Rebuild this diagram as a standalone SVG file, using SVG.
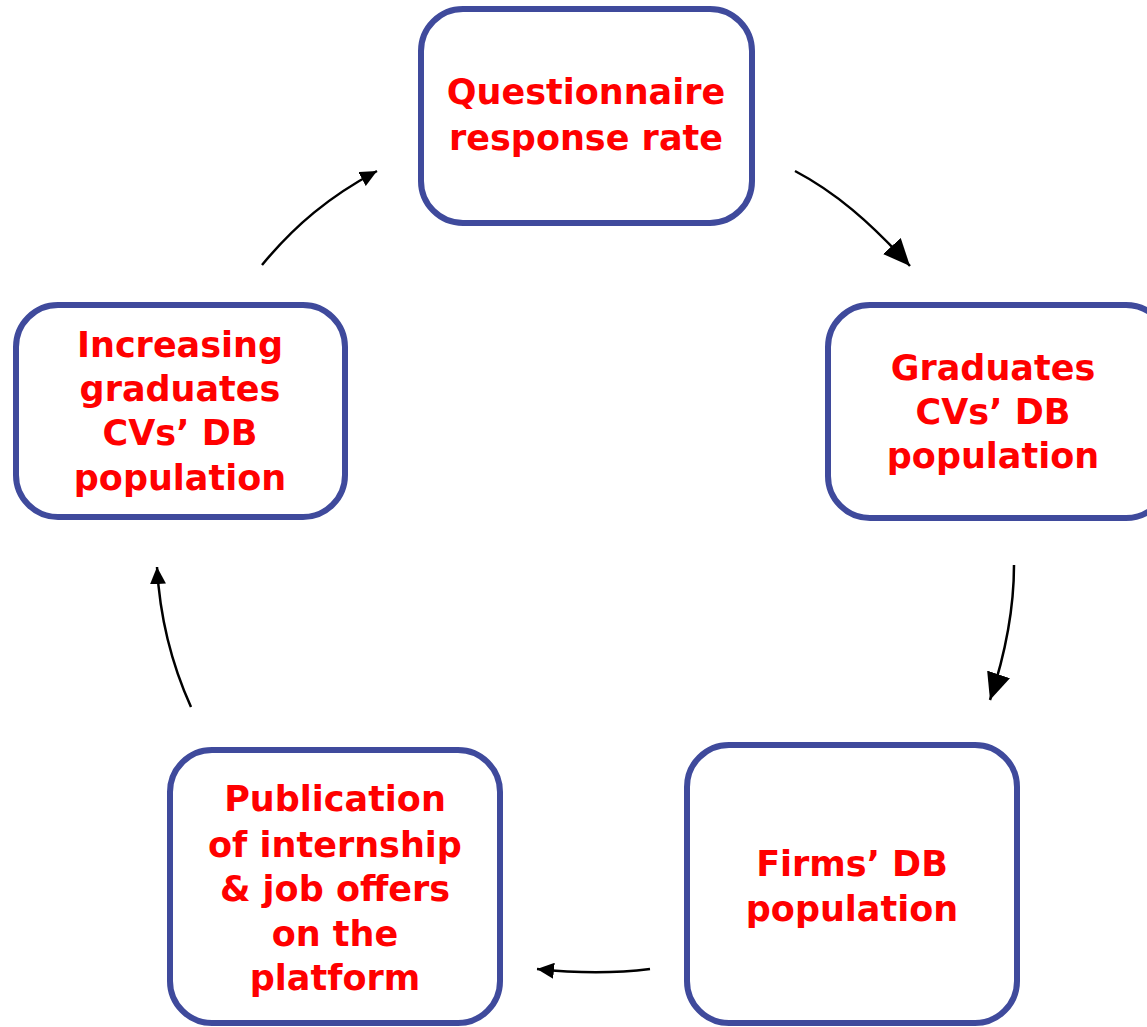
<svg xmlns="http://www.w3.org/2000/svg" width="1147" height="1027" viewBox="0 0 1147 1027">
<defs>
<style>
.box{fill:#fff;stroke:#3F4A9C;stroke-width:6}
.t{font-family:"DejaVu Sans","Liberation Sans",sans-serif;font-weight:bold;font-size:35px;fill:#FF0000;text-anchor:middle}
.c{fill:none;stroke:#000;stroke-width:2.5}
</style>
<marker id="big" markerUnits="userSpaceOnUse" markerWidth="28" markerHeight="24" refX="27" refY="12" orient="auto"><path d="M0,0 L27,12 L0,24 Z" fill="#000"/></marker>
<marker id="small" markerUnits="userSpaceOnUse" markerWidth="18" markerHeight="16" refX="17" refY="8" orient="auto"><path d="M0,0 L17,8 L0,16 Z" fill="#000"/></marker>
</defs>
<rect width="1147" height="1027" fill="#fff"/>
<g id="connectors">
<path class="c" d="M795,171 C835,192 870,222 910,266" marker-end="url(#big)"/>
<path class="c" d="M1014,565 C1014,610 1005,655 990,700" marker-end="url(#big)"/>
<path class="c" d="M650,969 C610,974 575,973 537,969" marker-end="url(#small)"/>
<path class="c" d="M191,707 C172,665 160,620 157,567" marker-end="url(#small)"/>
<path class="c" d="M262,265 C295,225 330,196 377,171" marker-end="url(#small)"/>
</g>
<g id="n-questionnaire">
<rect class="box" x="421" y="9" width="331" height="214" rx="42"/>
<text class="t" x="586" y="104">Questionnaire</text>
<text class="t" x="586" y="150">response rate</text>
</g>
<g id="n-graduates">
<rect class="box" x="828" y="305" width="340" height="213" rx="42"/>
<text class="t" x="993" y="380">Graduates</text>
<text class="t" x="993" y="424">CVs’ DB</text>
<text class="t" x="993" y="468">population</text>
</g>
<g id="n-firms">
<rect class="box" x="687" y="745" width="330" height="278" rx="42"/>
<text class="t" x="852" y="876">Firms’ DB</text>
<text class="t" x="852" y="921">population</text>
</g>
<g id="n-publication">
<rect class="box" x="170" y="750" width="330" height="273" rx="42"/>
<text class="t" x="335" y="811">Publication</text>
<text class="t" x="335" y="857">of internship</text>
<text class="t" x="335" y="901">&amp; job offers</text>
<text class="t" x="335" y="946">on the</text>
<text class="t" x="335" y="990">platform</text>
</g>
<g id="n-increasing">
<rect class="box" x="16" y="305" width="329" height="212" rx="42"/>
<text class="t" x="180" y="357">Increasing</text>
<text class="t" x="180" y="401">graduates</text>
<text class="t" x="180" y="445">CVs’ DB</text>
<text class="t" x="180" y="490">population</text>
</g>
</svg>
